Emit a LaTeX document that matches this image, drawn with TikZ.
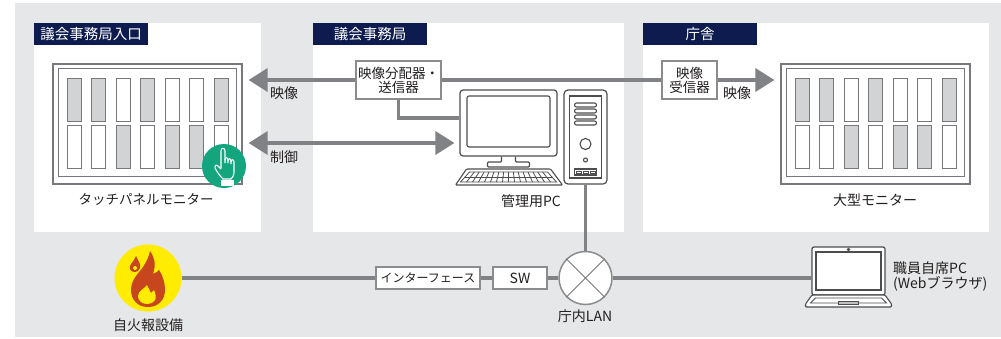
\documentclass[tikz,border=0pt]{standalone}
\usepackage{fontspec}
\setmainfont{Noto Sans CJK JP}
\usetikzlibrary{arrows.meta,positioning}

\definecolor{bggray}{HTML}{E6E7E8}
\definecolor{navy}{HTML}{0D1B4F}
\definecolor{linegray}{HTML}{808285}
\definecolor{boxgray}{HTML}{8A8C8E}
\definecolor{edgegray}{HTML}{77787B}
\definecolor{darkline}{HTML}{4D4D4F}
\definecolor{barfill}{HTML}{D1D3D4}
\definecolor{touchgreen}{HTML}{12A57E}
\definecolor{fireyellow}{HTML}{FFEC00}
\definecolor{firered}{HTML}{C8461E}
\definecolor{txt}{HTML}{231F20}

\tikzset{
  tab/.style={fill=navy, text=white, anchor=north west, inner sep=0,
    minimum width=114pt, minimum height=22pt, font=\fontsize{14.5}{15}\selectfont},
  lbl/.style={text=txt, inner sep=0, font=\fontsize{14}{15}\selectfont},
  device/.style={draw=boxgray, line width=1.5pt, fill=white, text=txt, inner sep=1pt,
    font=\fontsize{13.5}{14}\selectfont},
  monitor/.style={draw=edgegray, line width=1.2pt, fill=white,
    minimum width=189pt, minimum height=120pt},
  wire/.style={draw=linegray, line width=3.5pt},
  bigarrow/.style={wire, -{Triangle[length=19pt,width=23pt]}},
  icon/.style={draw=darkline, line width=1.2pt, fill=white}
}

% inner frame and the two rows of bars of a wall monitor
\newcommand\monbars[1]{%
  \draw[edgegray, line width=1pt] ([shift={(6pt,-5pt)}]#1.north west) rectangle ([shift={(-6pt,8pt)}]#1.south east);
  \foreach \i/\ct/\cb in {0/barfill/white,1/barfill/white,2/white/barfill,3/barfill/white,4/white/barfill,5/white/barfill,6/barfill/white}{
    \pgfmathsetmacro\xl{-80.5+24.5*\i}
    \filldraw[fill=\ct, draw=edgegray, line width=1pt] ([shift={(\xl pt,46pt)}]#1.center) rectangle ++(14pt,-43pt);
    \filldraw[fill=\cb, draw=edgegray, line width=1pt] ([shift={(\xl pt,-1pt)}]#1.center) rectangle ++(14pt,-43pt);
  }}

\begin{document}
\begin{tikzpicture}[x=1pt, y=-1pt]
    \useasboundingbox (0,0) rectangle (1001,338);
    \fill[bggray] (15,3) rectangle (1001,337);
    \fill[white] (34,23) rectangle (261,232);
    \fill[white] (313,23) rectangle (624,232);
    \fill[white] (643,23) rectangle (989,232);

    \node[tab] at (34,23) (tabentry){議会事務局入口};
    \node[tab] at (313,23) (taboffice){議会事務局};
    \node[tab] at (643,23) (tabhall){庁舎};

    % touch panel
    \node[monitor] at (147.5,124) (touch){};
    \monbars{touch}
    \node[circle, fill=touchgreen, minimum size=44pt, inner sep=0] at (224,166) (touchicon){};
    \begin{scope}[shift={(touchicon.center)}, draw=white, line width=1.1pt]
        \draw (-3,2) -- (-3,-15) .. controls (-3,-18.5) and (1,-18.5) .. (1,-15) -- (1,-3);
        \draw (1,-6) .. controls (1,-9) and (4,-9) .. (4,-6) -- (4,-3);
        \draw (4,-5) .. controls (4,-8) and (7,-8) .. (7,-5) -- (7,-2);
        \draw (7,-4) .. controls (7,-7) and (10,-7) .. (10,-4) -- (10,6)
            .. controls (10,10) and (8,12) .. (7,13) -- (-1,13)
            .. controls (-4,10) and (-7,6) .. (-9,2)
            .. controls (-10,0) and (-8,-2) .. (-6,0) -- (-3,3);
        \draw[fill=white] (-2,15) rectangle (9,19);
    \end{scope}
    \node[lbl, font=\fontsize{13.5}{14}\selectfont] at (146,200) (touchlbl){タッチパネルモニター};

    % large monitor
    \node[monitor] at (875.5,124) (bigmon){};
    \monbars{bigmon}
    \node[lbl] at (875,200) (bigmonlbl){大型モニター};

    \node[device, align=center, minimum width=85pt, minimum height=38pt] at (398.5,80) (split){映像分配器・\\送信器};
    \node[device, align=center, minimum width=55pt, minimum height=38pt] at (689.5,80) (recv){映像\\受信器};

    % admin pc
    \node[icon, rounded corners=3pt, minimum width=97pt, minimum height=66pt] at (508.5,123) (pc){};
    \begin{scope}[shift={(pc.center)}, draw=darkline, line width=1.1pt]
        \draw[rounded corners=2pt] (-41.5,-27) rectangle (41.5,24);
        \draw[rounded corners=1pt] (-7,33.5) -- (-7,39) -- (-21,39) -- (-21,44) -- (21,44) -- (21,39) -- (7,39) -- (7,33.5);
        \draw[fill=white, rounded corners=1pt] (-42,46) -- (42,46) -- (54,62) -- (-53,62) -- cycle;
        \draw[line width=0.8pt] (-39,49) -- (39,49) -- (48,59) -- (-48,59) -- cycle;
        \draw[line width=0.8pt] (-43.5,54) -- (43.5,54);
        \foreach \k in {1,...,15}
            \draw[line width=0.8pt] ({-39+78*\k/16},49) -- ({-48+96*\k/16},59);
    \end{scope}
    \node[icon, rounded corners=4pt, minimum width=43pt, minimum height=94pt] at (585.5,137) (tower){};
    \begin{scope}[shift={(tower.center)}, draw=darkline, line width=1.1pt]
        \draw (-16,-41) rectangle (16,41);
        \foreach \s in {-32,-26,-20,-14}
            \draw[rounded corners=2pt] (-11,\s-2) rectangle (11,\s+2);
        \draw (0,7) circle[radius=5.5pt];
        \draw (0,23) circle[radius=2pt];
        \draw (-11,32) rectangle (11,38);
        \foreach \d in {-7,0,7}
            \draw[line width=0.8pt] (\d-2.5,34) rectangle (\d+2.5,36);
    \end{scope}
    \node[lbl] at (531,201) (pclbl){管理用PC};

    % bottom row
    \node[circle, fill=fireyellow, minimum size=67pt, inner sep=0] at (148,278) (fire){};
    \begin{scope}[shift={(fire.center)}]
        \fill[firered] (0,29) .. controls (-11,29) and (-17,21) .. (-17,12)
            .. controls (-17,2) and (-10,-4) .. (-5,-11)
            .. controls (-1,-17) and (1,-22) .. (2,-27)
            .. controls (7,-20) and (8,-13) .. (5,-4)
            .. controls (8,-5) and (10,-7) .. (11,-8)
            .. controls (15,-2) and (17,5) .. (17,12)
            .. controls (17,22) and (10,29) .. (0,29) -- cycle;
        \fill[fireyellow] (-1,26) .. controls (-7,26) and (-10,22) .. (-10,18)
            .. controls (-10,13) and (-4,11) .. (-1,7)
            .. controls (1,11) and (2,13) .. (3,15)
            .. controls (4,14) and (5,13) .. (6,12)
            .. controls (8,16) and (8,20) .. (7,22)
            .. controls (5,25) and (2,26) .. (-1,26) -- cycle;
        \fill[firered] (-13,-6) .. controls (-17,-6) and (-19,-9) .. (-18,-12)
            .. controls (-17,-15) and (-14,-17) .. (-12,-22)
            .. controls (-10,-18) and (-7,-14) .. (-8,-10)
            .. controls (-9,-7) and (-11,-6) .. (-13,-6) -- cycle;
        \fill[fireyellow] (-13,-10) circle[radius=2pt];
    \end{scope}
    \node[lbl] at (148,325) (firelbl){自火報設備};

    \node[device, minimum width=104pt, minimum height=22pt, font=\fontsize{12}{13}\selectfont] at (428,278) (iface){インターフェース};
    \node[device, minimum width=54pt, minimum height=22pt, font=\fontsize{14}{15}\selectfont] at (520,278) (sw){SW};
    \node[circle, draw=boxgray, line width=1.5pt, fill=white, minimum size=53pt, inner sep=0] at (585.5,278) (lan){};
    \draw[edgegray, line width=1pt] (lan.north west) -- (lan.south east) (lan.north east) -- (lan.south west);
    \node[lbl] at (585,316) (lanlbl){庁内LAN};

    % staff laptop
    \node[icon, rounded corners=2pt, minimum width=73pt, minimum height=48pt] at (848.5,271) (laptop){};
    \begin{scope}[shift={(laptop.center)}, draw=darkline, line width=1.1pt]
        \draw (-32.5,-19) rectangle (32.5,19);
        \draw (0,-21.5) circle[radius=1.2pt];
        \draw[fill=white, rounded corners=1pt] (-36.5,24) -- (-43,33) -- (-43,36) -- (43,36) -- (43,33) -- (36.5,24) -- cycle;
        \draw[line width=0.8pt] (-33,27) -- (-38,32) -- (38,32) -- (33,27) -- cycle;
        \draw[line width=0.8pt] (-10,30) rectangle (10,33);
    \end{scope}
    \node[lbl, anchor=west, align=left] at (893,276) (laptoplbl){職員自席PC\\(Webブラウザ)};

    % connections
    \draw[bigarrow, shorten >=6pt] (split.west) -- (split.west -| touch.east);
    \draw[wire] (split.east) -- (recv.west);
    \draw[bigarrow, shorten >=6pt] (recv.east) -- (recv.east -| bigmon.west);
    \draw[wire] (split.south) |- ([yshift=5pt]pc.west);
    \draw[wire, {Triangle[length=19pt,width=23pt]}-{Triangle[length=19pt,width=23pt]}, shorten <=6pt, shorten >=5pt]
        ([yshift=-19pt]touch.east) -- ([yshift=-19pt]touch.east -| pc.west);
    \draw[wire] (tower.south) -- (lan.north);
    \draw[wire] (fire.east) -- (iface.west);
    \draw[wire] (iface.east) -- (sw.west);
    \draw[wire] (sw.east) -- (lan.west);
    \draw[wire] (lan.east) -- (lan.east -| laptop.west);

    \node[lbl] at (284,93) (videoleft){映像};
    \node[lbl] at (284,157) (control){制御};
    \node[lbl] at (737,93) (videoright){映像};
\end{tikzpicture}
\end{document}
